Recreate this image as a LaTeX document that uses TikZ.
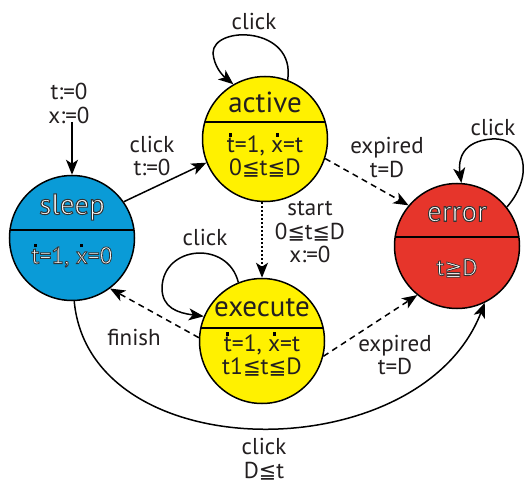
\documentclass[tikz,border=0pt]{standalone}
\usepackage{fontspec}
\setmainfont{PT Sans}
\newfontfamily\symf{DejaVu Sans}[Scale=0.9]
\newfontfamily\symfB{DejaVu Sans}[Scale=0.9,FakeBold=3.5]
\usetikzlibrary{arrows.meta}
\definecolor{sblue}{HTML}{0A9BD7}
\definecolor{syellow}{HTML}{FFF100}
\definecolor{sred}{HTML}{E6352B}
\definecolor{txt}{HTML}{231F20}
\newcommand\setol{\special{pdf:literal direct 0.2 0.2 0.2 RG}}
\newcommand\dt[1]{\hbox{\ooalign{#1\cr\hidewidth\raise0.7em\hbox{\color{black}\rule{0.13em}{0.13em}}\hidewidth\cr}}}
\newcommand\dtw[1]{\dt{#1}\setol}
\newcommand\wout[1]{{\color{white}\setol\addfontfeature{FakeBold=3.5}#1}}
\newcommand\myle{{\symf ≦}}
\newcommand\mygeB{{\symfB ≧}}
\tikzset{
 state/.style={circle, draw=black, line width=1.5pt, minimum size=125pt, inner sep=0pt},
 lbl/.style={font=\fontsize{23}{23.5}\selectfont, align=center, inner sep=0pt, text=txt},
 ttl/.style={font=\fontsize{29}{30}\selectfont, inner sep=0pt, text=txt},
 cnt/.style={font=\fontsize{23.5}{23}\selectfont, align=center, inner sep=0pt, text=txt},
 conn/.style={line width=1.5pt, -{Stealth[length=15pt,width=12pt,inset=4pt]}},
 dsh/.style={conn, dash pattern=on 6pt off 4.5pt},
 dtt/.style={conn, dash pattern=on 1.5pt off 2.5pt},
 divline/.style={line width=1.5pt}
}
\begin{document}
\begin{tikzpicture}[x=1pt,y=-1pt]
\path[use as bounding box, fill=white] (0,0) rectangle (525,484);

% states
\node[state, fill=syellow] (active) at (265,139) {};
\node[state, fill=sblue] (sleep) at (72,238) {};
\node[state, fill=syellow] (execute) at (262,341) {};
\node[state, fill=sred] (error) at (457,246) {};

\begin{scope}\clip (active.center) circle (62.5);
\draw[divline] (active.center) ++(-70,-17) -- ++(140,0);\end{scope}
\begin{scope}\clip (sleep.center) circle (62.5);
\draw[divline] (sleep.center) ++(-70,-8) -- ++(140,0);\end{scope}
\begin{scope}\clip (execute.center) circle (62.5);
\draw[divline] (execute.center) ++(-70,-13) -- ++(140,0);\end{scope}
\begin{scope}\clip (error.center) circle (62.5);
\draw[divline] (error.center) ++(-70,-9) -- ++(140,0);\end{scope}

% state texts
\node[ttl] (activeT) at (265,102) {active};
\node[cnt] (activeB) at (265,157) {\dt{t}=1, \dt{x}=t\\0\myle t\myle D};
\node[ttl] (sleepT) at (72,207) {\wout{sleep}};
\node[cnt] (sleepB) at (72,257) {\wout{\dtw{t}=1, \dtw{x}=0}};
\node[ttl] (executeT) at (262,308) {execute};
\node[cnt] (executeB) at (262,356) {\dt{t}=1, \dt{x}=t\\t1\myle t\myle D};
\node[ttl] (errorT) at (457,214) {\wout{error}};
\node[cnt] (errorB) at (457,268) {\wout{t\mygeB D}};

% labels
\node[lbl] (init) at (69,103.5) {t:=0\\x:=0};
\node[lbl] (lclick) at (152,156) {click\\t:=0};
\node[lbl] (lloopA) at (254,21) {click};
\node[lbl] (lexpA) at (387,157.5) {expired\\t=D};
\node[lbl] (lstart) at (310,232) {start\\0\myle t\myle D\\x:=0};
\node[lbl] (lloopE) at (205,237) {click};
\node[lbl] (lfinish) at (134,337) {finish};
\node[lbl] (lexpE) at (395,355) {expired\\t=D};
\node[lbl] (lloopR) at (493,127) {click};
\node[lbl] (lbottom) at (264,459) {click\\D\myle t};

% connectors
\draw[conn] (init.south -| sleep.north) ++(0,-2) -- (sleep.north);
\draw[conn] (sleep.35) -- (active.202);
\draw[dsh] (active.-18) -- (error.140);
\draw[dtt] (execute.north |- active.south) -- (execute.north);
\draw[dsh] (execute.177) -- (sleep.-53);
\draw[dsh] (execute.-14) -- (error.231);
\draw[conn] (sleep.-88) .. controls (90,470) and (420,470) .. (error.-64);
% loops
\draw[conn] (active.69) .. controls (296,26) and (213,25) .. (213,53) .. controls (214,66) and (222,75) .. (active.120);
\draw[conn] (execute.112) .. controls (228,240) and (163,245) .. (162,288) .. controls (162,308) and (178,313) .. (execute.157);
\draw[conn] (error.38) .. controls (535,175) and (525,137) .. (492,139) .. controls (462,141) and (458,160) .. (error.86);
\end{tikzpicture}
\end{document}
